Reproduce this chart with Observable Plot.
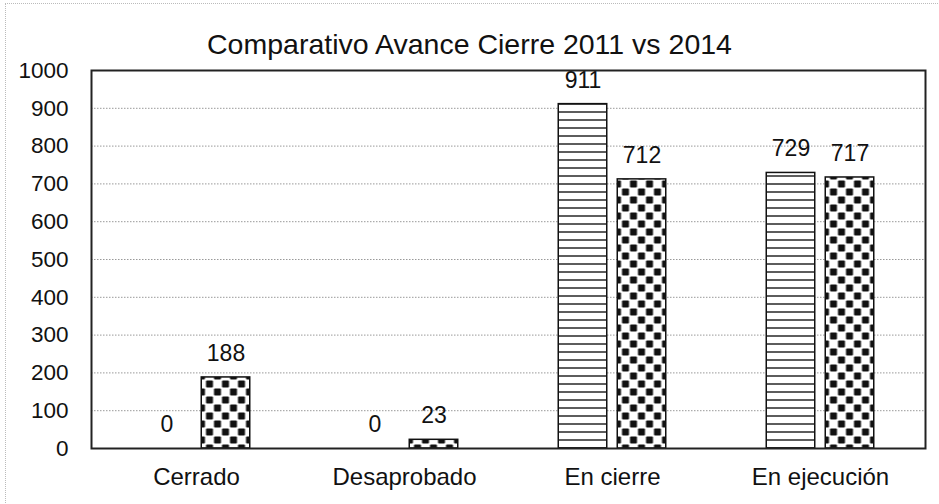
<!DOCTYPE html>
<html><head><meta charset="utf-8">
<script src="https://cdn.jsdelivr.net/npm/d3@7"></script>
<script src="https://cdn.jsdelivr.net/npm/@observablehq/plot@0.6"></script>
<style>
body{margin:0;background:#fff;font-family:"Liberation Sans",Arial,sans-serif;}
#wrap{position:relative;width:939px;height:504px;overflow:hidden;background:#fff;}
#title{padding-top:28px;height:32px;line-height:32px;font-size:28.5px;text-align:center;color:#111;}
#border{position:absolute;left:5px;top:3px;right:-5px;bottom:-5px;border-top:1px dotted #bbb;border-left:1px dotted #bbb;pointer-events:none;}
#chart svg{display:block;}
</style></head><body>
<div id="wrap"><div id="border"></div><div id="title">Comparativo Avance Cierre 2011 vs 2014</div><div id="chart"></div></div>
<script>
const categories = ["Cerrado", "Desaprobado", "En cierre", "En ejecución"];
const series = ["2011", "2014"];
const values2011 = [0, 0, 911, 729];
const values2014 = [188, 23, 712, 717];
const yTicks = [0, 100, 200, 300, 400, 500, 600, 700, 800, 900, 1000];

const rows2011 = categories.map((c, i) => ({category: c, series: series[0], value: values2011[i]}));
const rows2014 = categories.map((c, i) => ({category: c, series: series[1], value: values2014[i]}));

const font = "'Liberation Sans', Arial, Helvetica, sans-serif";
const chart = Plot.plot({
  width: 939, height: 444,
  marginTop: 10, marginBottom: 56, marginLeft: 91, marginRight: 14,
  style: {fontFamily: font, color: "#111", background: "white", overflow: "visible"},
  x: {domain: categories, padding: 0, label: null},
  y: {domain: [0, 1000], label: null},
  marks: [
    Plot.gridY(yTicks, {stroke: "#999", strokeOpacity: 1, strokeDasharray: "1.5,1.5", strokeWidth: 1}),
    Plot.barY(rows2011, {x: "category", y: "value", dx: -29.5, insetLeft: 79.75, insetRight: 79.75,
      fill: "url(#stripes)", stroke: "#111", strokeWidth: 1.5}),
    Plot.barY(rows2014, {x: "category", y: "value", dx: 29.5, insetLeft: 79.75, insetRight: 79.75,
      fill: "url(#checks)", stroke: "#111", strokeWidth: 1.5}),
    Plot.text(rows2011, {x: "category", y: "value", text: d => String(d.value), dx: -29.5, dy: -24,
      fontSize: 23, fill: "#111", lineAnchor: "middle"}),
    Plot.text(rows2014, {x: "category", y: "value", text: d => String(d.value), dx: 29.5, dy: -24,
      fontSize: 23, fill: "#111", lineAnchor: "middle"}),
    Plot.axisY(yTicks, {tickSize: 0, tickPadding: 23, fontSize: 22.5, label: null, tickFormat: d => String(d)}),
    Plot.axisX({tickSize: 0, tickPadding: 19, fontSize: 24, label: null}),
    Plot.frame({stroke: "#222", strokeWidth: 2})
  ]
});

d3.select(chart).insert("defs", ":first-child").html(`
  <pattern id="stripes" patternUnits="userSpaceOnUse" width="8" height="8">
    <rect width="8" height="8" fill="white"/>
    <line x1="0" x2="8" y1="4" y2="4" stroke="#333" stroke-width="1.6"/>
  </pattern>
  <pattern id="checks" patternUnits="userSpaceOnUse" width="16" height="16">
    <rect width="16" height="16" fill="white"/>
    <rect x="0.5" y="0.5" width="7" height="7" rx="1" fill="#111"/>
    <rect x="8.5" y="8.5" width="7" height="7" rx="1" fill="#111"/>
  </pattern>`);

document.getElementById("chart").appendChild(chart);
</script>
</body></html>
